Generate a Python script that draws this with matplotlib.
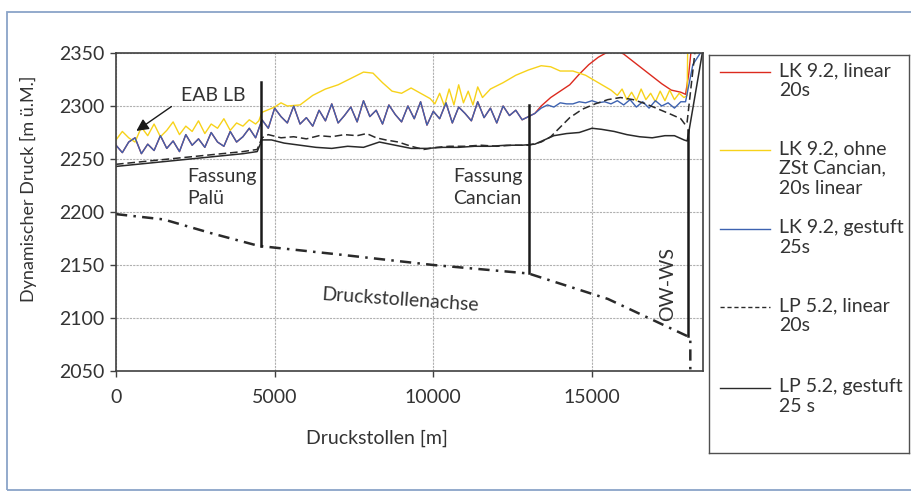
import matplotlib.pyplot as plt
from matplotlib.patches import Rectangle
from matplotlib.lines import Line2D

plt.rcParams['font.family'] = ['Lato', 'DejaVu Sans']

# LK 9.2, gestuft 25s (blau)
blue_x = list(range(0, 13201, 200)) + list(range(13400, 17801, 200)) + [17950, 18180, 18460]
blue_y = [2263, 2256, 2266, 2270, 2255, 2264, 2258, 2272, 2260, 2267, 2257, 2273, 2263, 2269,
          2261, 2275, 2266, 2262, 2276, 2266, 2271, 2279, 2270,
          2287, 2279, 2298, 2290, 2284, 2300, 2283, 2289, 2281, 2296, 2286, 2302, 2284, 2291,
          2299, 2285, 2305, 2290, 2296, 2283, 2301, 2292, 2285, 2300, 2288, 2304, 2282, 2295,
          2288, 2303, 2284, 2299, 2293, 2286, 2304, 2289, 2298, 2284, 2300, 2291, 2296, 2287,
          2290, 2293,
          2298, 2301, 2299, 2303, 2302, 2302, 2304, 2303, 2305, 2303, 2304, 2302, 2305, 2301,
          2306, 2299, 2304, 2298, 2305, 2300, 2303, 2298, 2304,
          2304, 2339, 2352]

# LK 9.2, linear 20s (rot) - bis 13200 m deckungsgleich mit blau
red_tail_x = [13400, 13700, 14000, 14300, 14600, 14900, 15200, 15500, 15800, 16000, 16300,
              16600, 16900, 17200, 17500, 17800, 17950, 18050, 18150]
red_tail_y = [2300, 2308, 2314, 2320, 2330, 2339, 2346, 2351, 2352, 2349, 2342,
              2335, 2328, 2321, 2315, 2313, 2311, 2330, 2360]
red_x = blue_x[:67] + red_tail_x
red_y = blue_y[:67] + red_tail_y

# LK 9.2, ohne ZSt Cancian, 20s linear (gelb)
yellow_x = list(range(0, 4401, 200)) + [
    4500, 4600, 5000, 5200, 5400, 5800, 6200, 6600, 7000, 7400, 7800, 8100, 8400, 8700,
    9000, 9300, 9600, 9900, 10050, 10200, 10350, 10500, 10650, 10800, 10950, 11100, 11250,
    11400, 11550, 11800, 12200, 12600, 13000, 13400, 13700, 14000, 14400, 14800, 15200,
    15600, 15800, 15950, 16100, 16250, 16400, 16550, 16700, 16850, 17000, 17150, 17300,
    17450, 17600, 17750, 17900, 18000, 18020]
yellow_y = [2268, 2276, 2270, 2266, 2280, 2272, 2283, 2271, 2277, 2285, 2273, 2281, 2276,
            2286, 2274, 2283, 2279, 2288, 2277, 2284, 2281, 2287, 2283,
            2286, 2294, 2299, 2303, 2300, 2301, 2310, 2316, 2320, 2326, 2332, 2331, 2322, 2314,
            2312, 2317, 2312, 2307, 2302, 2312, 2300, 2316, 2301, 2320, 2303, 2314, 2301,
            2318, 2308, 2316, 2322, 2329, 2334, 2338, 2337, 2333, 2333, 2329, 2322,
            2315, 2310, 2316, 2306, 2313, 2305, 2316, 2306, 2312, 2304, 2314, 2305,
            2315, 2306, 2312, 2308, 2310, 2360]

# LP 5.2, linear 20s (gestrichelt)
lp_lin_x = [0, 1000, 2000, 3000, 4000, 4450, 4600, 4800, 5200, 5600, 6000, 6400, 6800, 7200,
            7600, 7900, 8200, 8500, 8900, 9300, 9700, 10100, 10500, 11000, 11500, 12000,
            12500, 13000, 13400, 13700, 14000, 14300, 14700, 15100, 15500, 15900, 16300,
            16700, 17100, 17500, 17800, 17950, 18000, 18250]
lp_lin_y = [2245, 2248, 2251, 2254, 2257, 2259, 2270, 2273, 2270, 2271, 2269, 2272, 2271, 2273,
            2272, 2274, 2270, 2268, 2266, 2262, 2259, 2261, 2262, 2262, 2263, 2262,
            2263, 2263, 2266, 2271, 2280, 2289, 2297, 2302, 2306, 2308, 2306,
            2302, 2297, 2292, 2288, 2282, 2285, 2352]

# LP 5.2, gestuft 25 s (durchgezogen)
lp_st_x = [0, 1000, 2000, 3000, 4000, 4450, 4600, 4900, 5300, 5800, 6300, 6800, 7300, 7800,
           8300, 8800, 9300, 9800, 10300, 10800, 11300, 11800, 12300, 12800, 13200, 13500,
           13800, 14200, 14600, 15000, 15300, 15700, 16100, 16500, 16900, 17300, 17600,
           17900, 18000, 18050, 18490]
lp_st_y = [2243, 2246, 2249, 2252, 2255, 2257, 2268, 2268, 2265, 2263, 2261, 2260, 2262, 2261,
           2266, 2263, 2260, 2260, 2261, 2261, 2262, 2262, 2263, 2263, 2264, 2268,
           2272, 2274, 2275, 2279, 2278, 2276, 2273, 2271, 2270, 2272, 2272,
           2268, 2267, 2275, 2352]

# Druckstollenachse
achse_x = [0, 1500, 3000, 4500, 7000, 10000, 13000, 15500, 18000, 18100, 18100]
achse_y = [2198, 2193, 2180, 2168, 2160, 2150, 2142, 2118, 2083, 2081, 2050]

# senkrechte Markierungen: x, y unten, y oben
marker_x = [4560, 13020, 18020]
marker_lo = [2168, 2142, 2083]
marker_hi = [2323, 2301, 2277]

legend_labels = ["LK 9.2, linear\n20s", "LK 9.2, ohne\nZSt Cancian,\n20s linear",
                 "LK 9.2, gestuft\n25s", "LP 5.2, linear\n20s", "LP 5.2, gestuft\n25 s"]

c_red = "#dc2a1e"
c_yellow = "#f7d21a"
c_blue = "#3d62b0"
c_dark = "#2a2a2a"
txt = "#333333"

W, H = 911, 492
fig = plt.figure(figsize=(W / 100, H / 100), dpi=100)
fig.patch.set_facecolor("white")

# Rahmen um die ganze Grafik
fig.patches.append(Rectangle((7 / W, 1 - 490 / H), 920 / W, 478 / H, transform=fig.transFigure,
                             fill=False, edgecolor="#8aa4c8", linewidth=1.3))

ax = fig.add_axes([116 / W, 1 - 371 / H, 587 / W, 318 / H])

ax.plot(red_x, red_y, color=c_red, lw=1.0)
ax.plot(yellow_x, yellow_y, color=c_yellow, lw=1.0)
ax.plot(blue_x, blue_y, color=c_blue, lw=1.0)
ax.plot(lp_lin_x, lp_lin_y, color=c_dark, lw=1.1, dashes=(5, 2.5))
ax.plot(lp_st_x, lp_st_y, color=c_dark, lw=1.1)
ax.plot(achse_x, achse_y, color=c_dark, lw=1.8, dashes=(4.5, 2.5, 1, 2.5))

for mx, lo, hi in zip(marker_x, marker_lo, marker_hi):
    ax.plot([mx, mx], [lo, hi], color="#1a1a1a", lw=1.8)

ax.set_xlim(0, 18500)
ax.set_ylim(2050, 2350)
ax.set_xticks([0, 5000, 10000, 15000])
ax.set_yticks(range(2050, 2351, 50))
ax.tick_params(axis="both", labelsize=14, colors="#404040", labelcolor=txt, length=4, width=1)
ax.tick_params(axis="x", pad=9)
ax.tick_params(axis="y", pad=4)
ax.grid(True, color="#b0b0b0", lw=0.8, linestyle=(0, (2, 1)))
ax.set_axisbelow(True)
for s in ax.spines.values():
    s.set_color("#404040")
    s.set_linewidth(1.2)

# Beschriftungen im Diagramm
ax.text(3050, 2310, "EAB LB", fontsize=14, color=txt, ha="center", va="center")
ax.annotate("", xy=(570, 2275), xytext=(1820, 2301),
            arrowprops=dict(arrowstyle="-|>", color="#1a1a1a", lw=1.0, mutation_scale=18))
ax.text(2260, 2223, "Fassung\nPalü", fontsize=14, color=txt, ha="left", va="center",
        linespacing=1.35)
ax.text(10630, 2223, "Fassung\nCancian", fontsize=14, color=txt, ha="left", va="center",
        linespacing=1.35)
ax.text(8960, 2117, "Druckstollenachse", fontsize=14, color=txt, ha="center", va="center",
        rotation=-4, rotation_mode="anchor")
ax.text(17380, 2132, "OW-WS", fontsize=14, color=txt, ha="center", va="center", rotation=90)

fig.text(28 / W, 1 - 189 / H, "Dynamischer Druck [m ü.M.]", fontsize=13, color=txt,
         rotation=90, ha="center", va="center")
fig.text(377 / W, 1 - 438 / H, "Druckstollen [m]", fontsize=14, color=txt,
         ha="center", va="center")

# Legende (eigene Achse in Pixelkoordinaten)
lax = fig.add_axes([709 / W, 1 - 453 / H, 200 / W, 398 / H])
lax.set_xlim(0, 200)
lax.set_ylim(398, 0)
lax.set_xticks([])
lax.set_yticks([])
for s in lax.spines.values():
    s.set_color("#505050")
    s.set_linewidth(1.0)
entry_y = [17, 95, 174, 252, 333]
styles = [dict(color=c_red), dict(color=c_yellow), dict(color=c_blue),
          dict(color=c_dark, dashes=(3, 2)), dict(color=c_dark)]
for ey, lab, st in zip(entry_y, legend_labels, styles):
    lax.add_line(Line2D([11, 61], [ey, ey], lw=1.0, **st))
    lax.text(70, ey - 10, lab, fontsize=14, color=txt, ha="left", va="top", linespacing=1.2)

fig.savefig("out.png", dpi=100)
